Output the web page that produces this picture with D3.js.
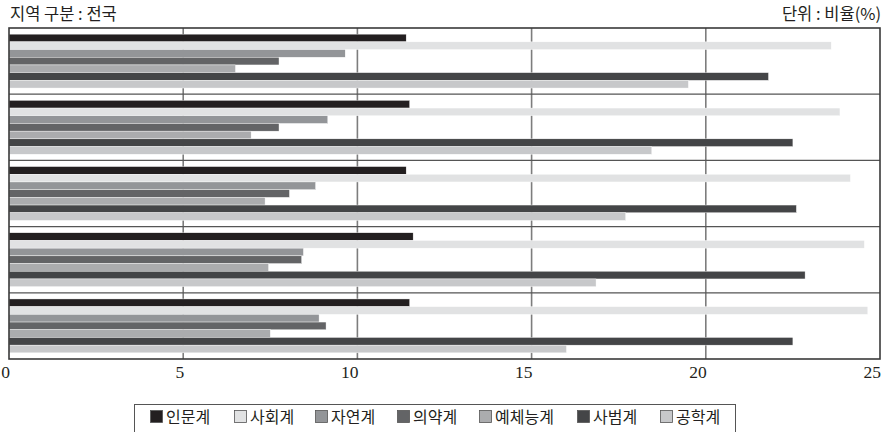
<!DOCTYPE html>
<html>
<head>
<meta charset="utf-8">
<script src="https://cdn.jsdelivr.net/npm/d3@7"></script>
<style>
  body { margin: 0; background: #fff; }
  svg { display: block; }
  .title { font-family: "Noto Sans CJK KR", sans-serif; font-size: 16.5px; fill: #231f20; }
  .tick-label { font-family: "Liberation Serif", serif; font-size: 17.5px; fill: #231f20; }
  .legend-label { font-family: "Noto Sans CJK KR", sans-serif; font-size: 16px; fill: #231f20; }
</style>
</head>
<body>
<svg></svg>
<script>
// five rows (unlabelled in the source), seven fields each
const groups = ["1", "2", "3", "4", "5"];
const series = ["인문계", "사회계", "자연계", "의약계", "예체능계", "사범계", "공학계"];
const seriesColors = ["#231f20", "#e1e2e3", "#939598", "#636466", "#abacae", "#444547", "#c7c8ca"];

const humanities = [11.4, 11.5, 11.4, 11.6, 11.5];
const social = [23.6, 23.85, 24.15, 24.55, 24.65];
const natural = [9.65, 9.15, 8.8, 8.45, 8.9];
const medical = [7.75, 7.75, 8.05, 8.4, 9.1];
const arts = [6.5, 6.95, 7.35, 7.45, 7.5];
const education = [21.8, 22.5, 22.6, 22.85, 22.5];
const engineering = [19.5, 18.45, 17.7, 16.85, 16.0];

const xTicks = [0, 5, 10, 15, 20, 25];

const seriesValues = [humanities, social, natural, medical, arts, education, engineering];

const W = 890, H = 432;
const margin = { top: 28, right: 10, bottom: 73, left: 9 };
const width = W - margin.left - margin.right;
const height = H - margin.top - margin.bottom;

const root = d3.select("svg").attr("width", W).attr("height", H);

root.append("text").attr("class", "title")
  .attr("x", 10).attr("y", 20).text("지역 구분 : 전국");
root.append("text").attr("class", "title")
  .attr("x", 881).attr("y", 20).attr("text-anchor", "end").text("단위 : 비율(%)");

const svg = root.append("g").attr("transform", `translate(${margin.left},${margin.top})`);

const x = d3.scaleLinear().domain([0, 25]).range([0, width]);
const y0 = d3.scaleBand().domain(groups).range([0, height]).padding(0);
const y1 = d3.scaleBand().domain(series).range([0, y0.bandwidth()]).paddingInner(0).paddingOuter(0.8);
const color = d3.scaleOrdinal().domain(series).range(seriesColors);

// vertical gridlines behind bars
svg.append("g")
  .selectAll("line")
  .data(xTicks.slice(1, -1))
  .join("line")
  .attr("x1", d => x(d)).attr("x2", d => x(d))
  .attr("y1", 0).attr("y2", height)
  .attr("stroke", "#7d7d7d")
  .attr("stroke-width", 1.6);

// group separators
svg.append("g")
  .selectAll("line")
  .data(groups.slice(1))
  .join("line")
  .attr("x1", 0).attr("x2", width)
  .attr("y1", d => y0(d)).attr("y2", d => y0(d))
  .attr("stroke", "#555")
  .attr("stroke-width", 1.3);

const rows = groups.map((g, i) => ({
  group: g,
  values: series.map((s, j) => ({ key: s, value: seriesValues[j][i] }))
}));

svg.append("g")
  .selectAll("g")
  .data(rows)
  .join("g")
  .attr("transform", d => `translate(0,${y0(d.group)})`)
  .selectAll("rect")
  .data(d => d.values)
  .join("rect")
  .attr("x", 0)
  .attr("y", d => y1(d.key))
  .attr("width", d => x(d.value))
  .attr("height", y1.bandwidth())
  .attr("fill", d => color(d.key))
  .attr("stroke", "#fff")
  .attr("stroke-width", 0.4);

// frame
svg.append("rect")
  .attr("x", 0).attr("y", 0)
  .attr("width", width).attr("height", height)
  .attr("fill", "none")
  .attr("stroke", "#3a3a3a")
  .attr("stroke-width", 1.6);

// x tick labels
svg.append("g")
  .selectAll("text")
  .data(xTicks)
  .join("text")
  .attr("class", "tick-label")
  .attr("x", d => x(d) + 1)
  .attr("y", height + 19)
  .attr("text-anchor", "end")
  .text(d => d);

// legend
const legendX = [150, 234, 315, 397, 479, 577, 660];
const legend = root.append("g");
legend.append("rect")
  .attr("x", 134.5).attr("y", 404.5)
  .attr("width", 601).attr("height", 40)
  .attr("fill", "#fff")
  .attr("stroke", "#555")
  .attr("stroke-width", 1);

const items = legend.selectAll("g.item")
  .data(series)
  .join("g")
  .attr("class", "item")
  .attr("transform", (d, i) => `translate(${legendX[i]},410)`);

items.append("rect")
  .attr("x", 0.5).attr("y", 0.5)
  .attr("width", 12).attr("height", 12)
  .attr("fill", d => color(d))
  .attr("stroke", "#555")
  .attr("stroke-width", 0.8);

items.append("text")
  .attr("class", "legend-label")
  .attr("x", 16)
  .attr("y", 13)
  .text(d => d);
</script>
</body>
</html>
